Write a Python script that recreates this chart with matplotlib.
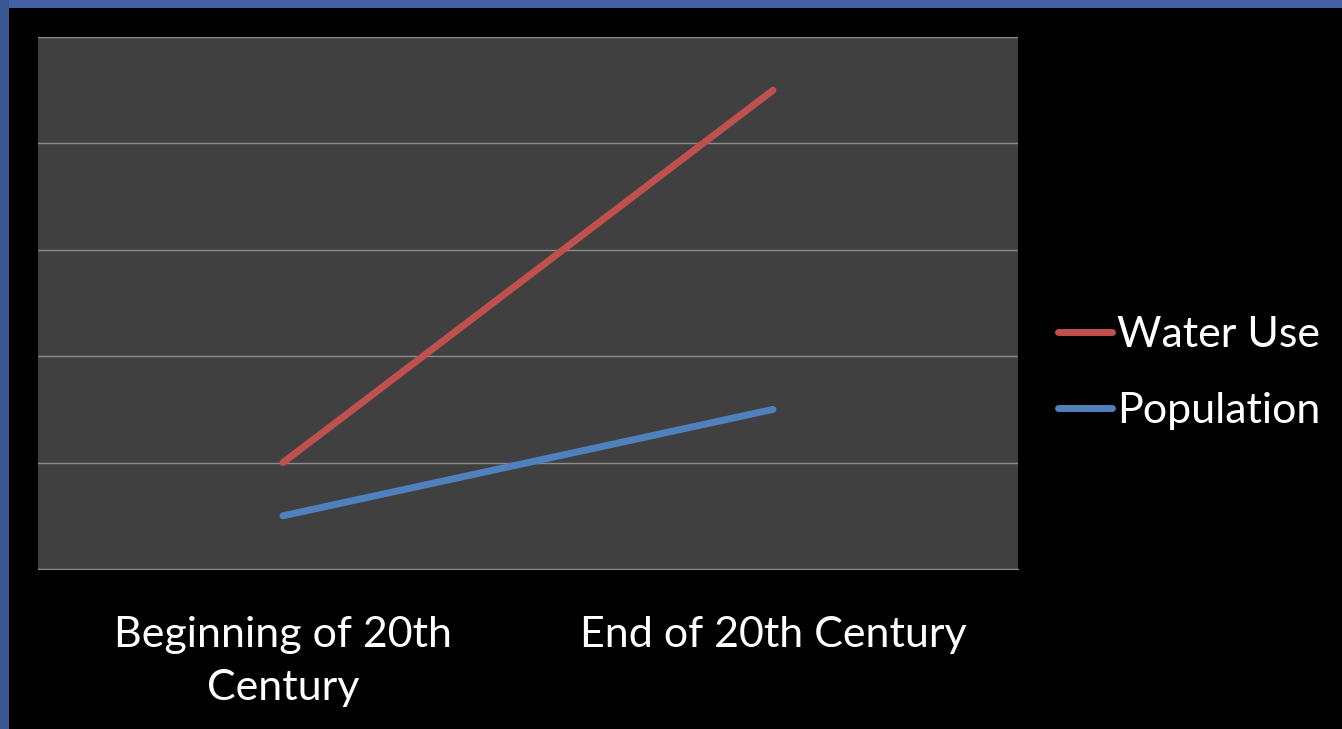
import matplotlib.pyplot as plt
from matplotlib.patches import Rectangle

categories = ['Beginning of 20th\nCentury', 'End of 20th Century']
water_use = [1.0, 4.5]
population = [0.5, 1.5]

W, H = 1342, 729
fig = plt.figure(figsize=(W / 100, H / 100), dpi=100, facecolor='black')

# blue slide frame on top and left
fig.patches.append(Rectangle((0, 1 - 8 / H), 1, 8 / H, transform=fig.transFigure,
                             facecolor='#4463a6', edgecolor='none', zorder=0))
fig.patches.append(Rectangle((0, 0), 9 / W, 1, transform=fig.transFigure,
                             facecolor='#3a5795', edgecolor='none', zorder=0))

ax = fig.add_axes([38 / W, 1 - 569 / H, 980 / W, 532 / H])
ax.set_facecolor('#404040')

x = range(len(categories))
ax.plot(x, water_use, color='#c0504d', lw=5, solid_capstyle='round', label='Water Use')
ax.plot(x, population, color='#4f81bd', lw=5, solid_capstyle='round', label='Population')

ax.set_xlim(-0.5, 1.5)
ax.set_ylim(0, 5)
ax.set_yticks(range(6))
ax.set_yticklabels([])
ax.tick_params(left=False, bottom=False)
ax.grid(axis='y', color='#8c8c8c', lw=1)
ax.set_axisbelow(True)
for s in ['top', 'right', 'left']:
    ax.spines[s].set_visible(False)
ax.spines['bottom'].set_color('#8c8c8c')

ax.set_xticks(list(x))
ax.set_xticklabels(categories, fontsize=31, color='white', family='Lato',
                   linespacing=1.5)
ax.tick_params(axis='x', pad=30)

leg = fig.legend(loc='center left', bbox_to_anchor=(1058 / W, 1 - 373 / H),
                 frameon=False, prop={'family': 'Lato', 'size': 31},
                 labelcolor='white', handlelength=1.25, handletextpad=0.12,
                 labelspacing=0.87, borderpad=0, borderaxespad=0)

fig.savefig('out.png', dpi=100, facecolor='black')
